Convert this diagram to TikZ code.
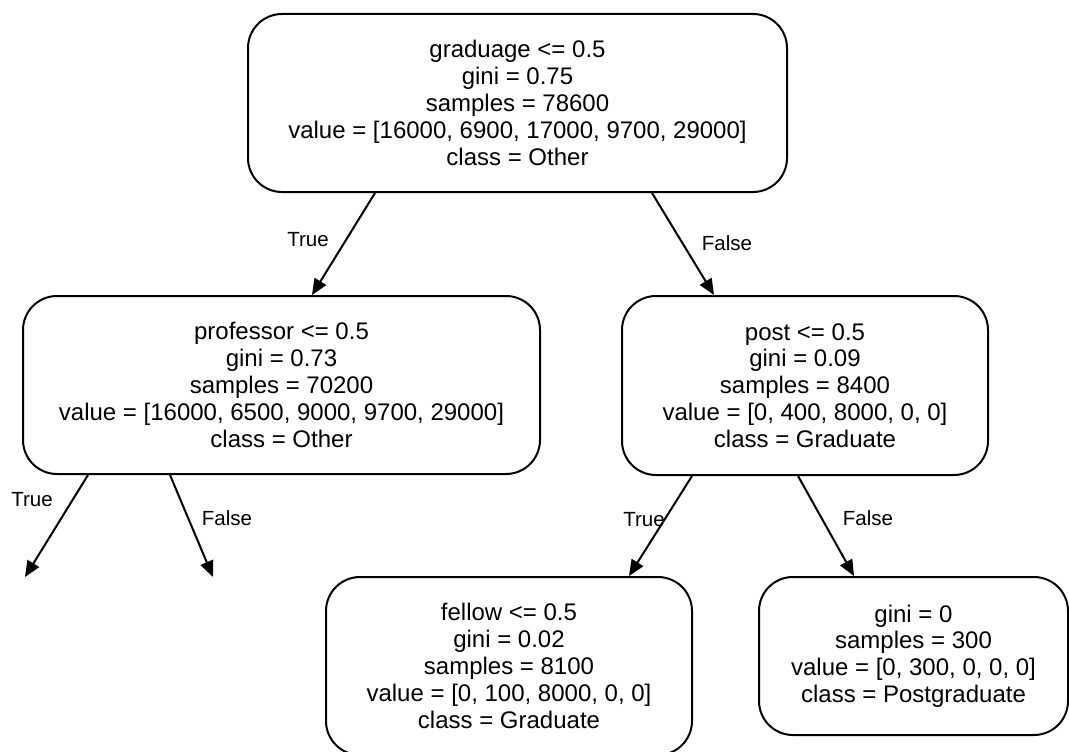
\documentclass[tikz,border=0pt]{standalone}
\usepackage{fontspec}
\setmainfont{Liberation Sans}
\usetikzlibrary{arrows.meta}
\tikzset{
  treenode/.style={draw=black, line width=2pt, rounded corners=34pt, fill=white,
    inner sep=0pt, align=center, font=\fontsize{24}{26.8}\selectfont},
  edge/.style={draw=black, line width=2pt, -{Triangle[length=16pt,width=13.5pt]}},
  elabel/.style={inner sep=0pt, font=\fontsize{20.5}{24}\selectfont}
}
\begin{document}
\begin{tikzpicture}[x=1pt, y=-1pt]
\useasboundingbox (0,0) rectangle (1069,752);
\clip (0,0) rectangle (1069,752);

\node[treenode, minimum width=539pt, minimum height=178pt] (root) at (517.5,103)
  {graduage <= 0.5\\gini = 0.75\\samples = 78600\\value = [16000, 6900, 17000, 9700, 29000]\\class = Other};
\node[treenode, minimum width=517pt, minimum height=178pt] (prof) at (281.5,385)
  {professor <= 0.5\\gini = 0.73\\samples = 70200\\value = [16000, 6500, 9000, 9700, 29000]\\class = Other};
\node[treenode, minimum width=366pt, minimum height=179pt] (post) at (805,385.5)
  {post <= 0.5\\gini = 0.09\\samples = 8400\\value = [0, 400, 8000, 0, 0]\\class = Graduate};
\node[treenode, minimum width=366pt, minimum height=178pt] (fellow) at (509,666)
  {fellow <= 0.5\\gini = 0.02\\samples = 8100\\value = [0, 100, 8000, 0, 0]\\class = Graduate};
\node[treenode, minimum width=309pt, minimum height=158pt] (pgrad) at (913.5,656)
  {gini = 0\\samples = 300\\value = [0, 300, 0, 0, 0]\\class = Postgraduate};

\coordinate (profT) at (25,577);
\coordinate (profF) at (213,577);

\draw[edge] ([xshift=128pt]root.south west) -- ([xshift=290pt]prof.north west);
\draw[edge] ([xshift=405pt]root.south west) -- ([xshift=93pt]post.north west);
\draw[edge] ([xshift=66pt]prof.south west) -- (profT);
\draw[edge] ([xshift=148pt]prof.south west) -- (profF);
\draw[edge] ([xshift=71pt]post.south west) -- ([xshift=304pt]fellow.north west);
\draw[edge] ([xshift=177pt]post.south west) -- ([xshift=96pt]pgrad.north west);

\node[elabel] (l1) at (308,240) {True};
\node[elabel] (l2) at (727,243) {False};
\node[elabel] (l3) at (32,500) {True};
\node[elabel] (l4) at (227,518) {False};
\node[elabel] (l5) at (644,520) {True};
\node[elabel] (l6) at (868,518) {False};
\end{tikzpicture}
\end{document}
